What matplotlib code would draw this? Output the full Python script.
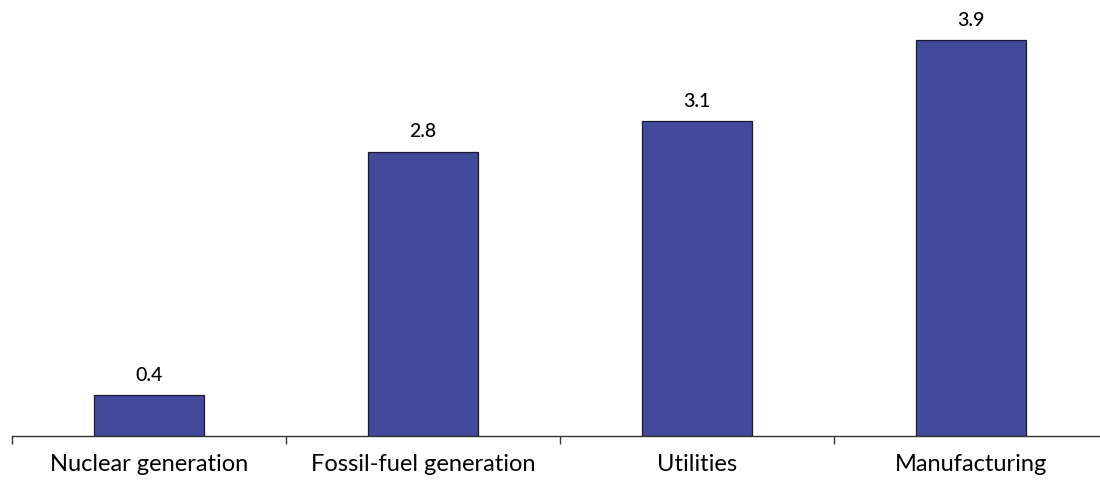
import matplotlib
matplotlib.use("Agg")
import matplotlib.pyplot as plt

categories = ["Nuclear generation", "Fossil-fuel generation", "Utilities", "Manufacturing"]
values = [0.4, 2.8, 3.1, 3.9]
value_labels = ["0.4", "2.8", "3.1", "3.9"]

plt.rcParams['font.family'] = ['Lato', 'DejaVu Sans']

W, H = 1100, 485
fig = plt.figure(figsize=(W / 100, H / 100), dpi=100)
left = 12 / W
bottom = (H - 437) / H
ppu = 101.5
ymax = 4.3
ax = fig.add_axes([left, bottom, 1096 / W, ymax * ppu / H])

x = list(range(len(categories)))
ax.bar(x, values, width=0.40, color="#434a9c", edgecolor="#1a1a2e", linewidth=0.9, zorder=2)
for xi, v, lab in zip(x, values, value_labels):
    ax.annotate(lab, (xi, v), xytext=(0, 9), textcoords="offset points",
                ha="center", va="bottom", fontsize=14, fontweight="medium", color="black")

ax.set_xlim(-0.5, 3.5)
ax.set_ylim(0, ymax)
ax.set_xticks([-0.5, 0.5, 1.5, 2.5, 3.5])
ax.set_xticklabels([])
ax.set_xticks(x, minor=True)
ax.set_xticklabels(categories, minor=True, fontsize=17)
ax.tick_params(axis="x", which="major", direction="out", length=6, width=1, color="#333333")
ax.tick_params(axis="x", which="minor", length=0, pad=12)
ax.set_yticks([])
for s in ["top", "right", "left"]:
    ax.spines[s].set_visible(False)
ax.spines["bottom"].set_color("#333333")
ax.spines["bottom"].set_linewidth(1)

fig.savefig("out.png", dpi=100)
